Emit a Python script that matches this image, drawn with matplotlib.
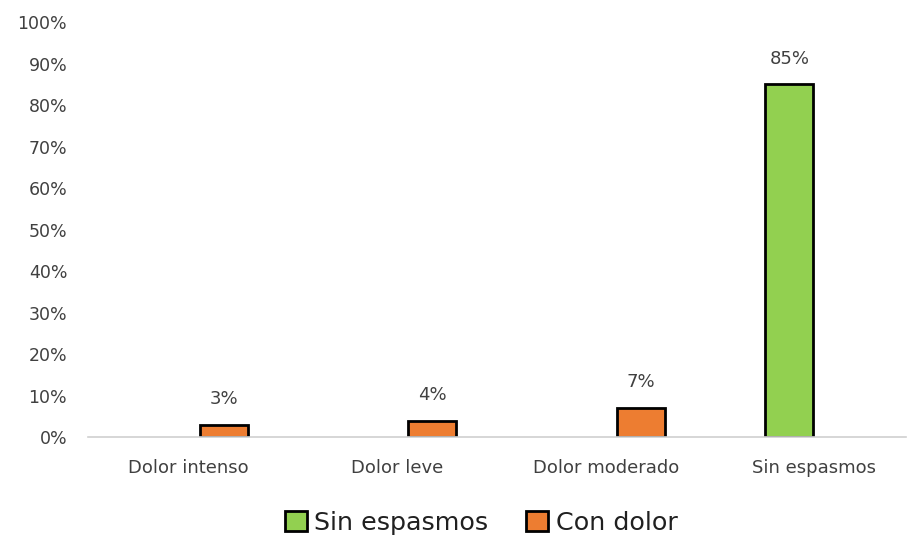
import numpy as np
import matplotlib.pyplot as plt
from matplotlib.patches import Patch

categories = ["Dolor intenso", "Dolor leve", "Dolor moderado", "Sin espasmos"]
sin_espasmos = [np.nan, np.nan, np.nan, 85]
con_dolor = [3, 4, 7, np.nan]
yticks = [0, 10, 20, 30, 40, 50, 60, 70, 80, 90, 100]

green = "#92D050"
orange = "#ED7D31"
text_color = "#404040"

plt.rcParams["font.family"] = ["DejaVu Sans"]

fig = plt.figure(figsize=(9.08, 5.41), dpi=100)
ax = fig.add_axes([0.097, 0.192, 0.901, 0.767])

x = np.arange(len(categories))
width = 0.23

# bars sit a little off-centre in the original
bars_green = ax.bar(x - 0.12, sin_espasmos, width, color=green,
                    edgecolor="black", linewidth=2)
bars_orange = ax.bar(x + 0.17, con_dolor, width, color=orange,
                     edgecolor="black", linewidth=2)

for bars, values in [(bars_green, sin_espasmos), (bars_orange, con_dolor)]:
    for b, v in zip(bars, values):
        if np.isnan(v):
            continue
        ax.annotate(f"{v:.0f}%", (b.get_x() + b.get_width() / 2, v),
                    xytext=(0, 12), textcoords="offset points",
                    ha="center", va="bottom", fontsize=13, color=text_color)

ax.set_xlim(-0.48, 3.44)
ax.set_ylim(0, 100)
ax.set_yticks(yticks)
ax.set_yticklabels([f"{t}%" for t in yticks])
ax.set_xticks(x)
ax.set_xticklabels(categories)
ax.tick_params(axis="y", length=0, pad=15, labelsize=12.5, labelcolor=text_color)
ax.tick_params(axis="x", length=0, pad=16, labelsize=13, labelcolor=text_color)

for side in ["top", "right", "left"]:
    ax.spines[side].set_visible(False)
ax.spines["bottom"].set_color("#d0d0d0")
ax.spines["bottom"].set_linewidth(1.2)

handles = [Patch(facecolor=green, edgecolor="black", linewidth=2),
           Patch(facecolor=orange, edgecolor="black", linewidth=2)]
fig.legend(handles, ["Sin espasmos", "Con dolor"], loc="center",
           bbox_to_anchor=(0.53, 0.033), ncol=2, frameon=False,
           fontsize=18.3, handlelength=0.85, handleheight=0.85,
           handletextpad=0.3, columnspacing=1.5, labelcolor="#202020")

fig.savefig("out.png", dpi=100)
